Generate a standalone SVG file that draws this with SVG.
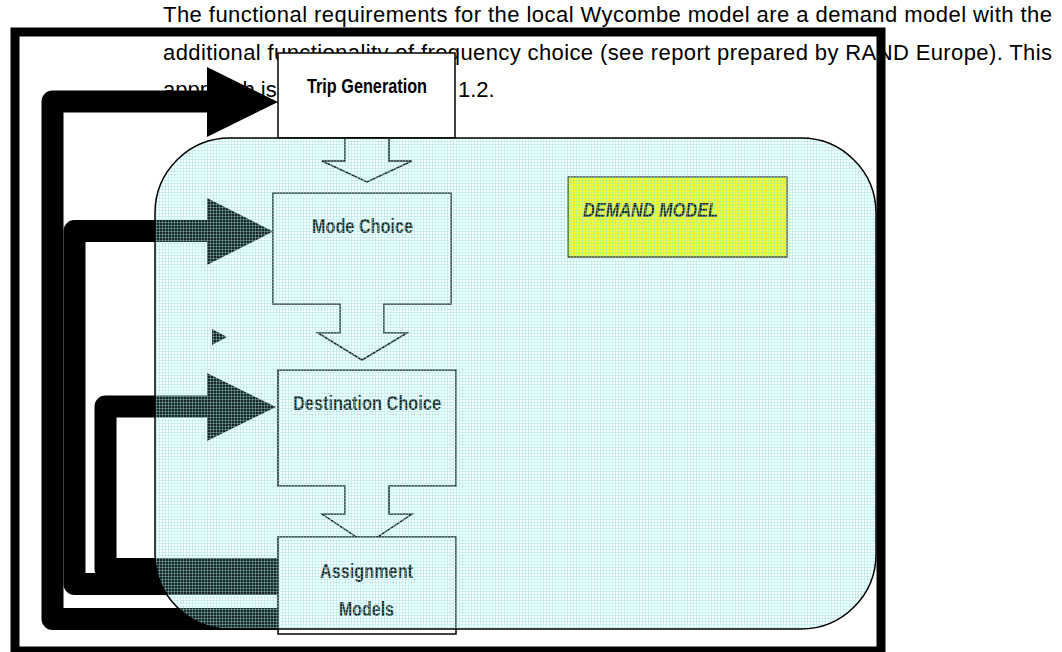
<svg xmlns="http://www.w3.org/2000/svg" width="1062" height="652" viewBox="0 0 1062 652">
  <defs>
    <pattern id="mesh" width="3" height="3" patternUnits="userSpaceOnUse">
      <rect width="3" height="3" fill="#c0f0f0" fill-opacity="0.15"/>
      <rect width="3" height="1" fill="#90e0e0" fill-opacity="0.4"/>
      <rect width="1" height="3" fill="#90e0e0" fill-opacity="0.4"/>
    </pattern>
  </defs>
  <style>
    .para { font-family: "Liberation Sans", Arial, sans-serif; font-size: 22px; fill: #000; }
    .lbl { font-family: "Liberation Sans", Arial, sans-serif; font-size: 20px; font-weight: bold; fill: #000; }
    .box { fill: #fff; stroke: #000; stroke-width: 1.5; }
    .loop { fill: none; stroke: #000; stroke-width: 22; stroke-linejoin: round; }
    .head { fill: #000; stroke: none; }
  </style>
  <rect width="1062" height="652" fill="#fff"/>

  <g id="paragraph">
    <text class="para" x="163" y="22" textLength="889">The functional requirements for the local Wycombe model are a demand model with the</text>
    <text class="para" x="163" y="60" textLength="889">additional functionality of frequency choice (see report prepared by RAND Europe). This</text>
    <text class="para" x="163" y="97">approach is</text>
    <text class="para" x="458" y="97">1.2.</text>
  </g>

  <g id="frame">
    <rect x="15" y="32" width="866" height="619" fill="none" stroke="#000" stroke-width="9"/>
  </g>

  <g id="connectors">
    <path class="loop" d="M 280 619 H 52.5 V 101.5 H 210"/>
    <polygon class="head" points="207,67 278,102 207,137"/>
    <path class="loop" d="M 280 584 H 74.5 V 231 H 210"/>
    <polygon class="head" points="207,198 273,231.5 207,265"/>
    <path class="loop" d="M 280 569 H 105.5 V 406.5 H 210"/>
    <polygon class="head" points="207,373 276,407 207,441"/>
    <polygon class="head" points="212,329 227,337 212,345"/>
  </g>

  <g id="trip-generation">
    <rect class="box" x="278" y="53" width="177" height="85"/>
    <polygon class="box" points="345,138 345,161 322,161 367,182 412,161 389,161 389,138"/>
    <text class="lbl" x="307" y="93" textLength="120" lengthAdjust="spacingAndGlyphs">Trip Generation</text>
  </g>

  <g id="mode-choice">
    <polygon class="box" points="273,193 451,193 451,304 384,304 384,333 407,333 362,360 318,333 340,333 340,304 273,304"/>
    <text class="lbl" x="312" y="233" textLength="101" lengthAdjust="spacingAndGlyphs">Mode Choice</text>
  </g>

  <g id="destination-choice">
    <polygon class="box" points="278,370 456,370 456,486 389,486 389,514 412,514 367,544 322,514 345,514 345,486 278,486"/>
    <text class="lbl" x="293" y="410" textLength="148" lengthAdjust="spacingAndGlyphs">Destination Choice</text>
  </g>

  <g id="assignment-models">
    <rect class="box" x="278" y="537" width="178" height="97"/>
    <text class="lbl" x="320" y="578" textLength="93" lengthAdjust="spacingAndGlyphs">Assignment</text>
    <text class="lbl" x="339" y="616" textLength="55" lengthAdjust="spacingAndGlyphs">Models</text>
  </g>

  <g id="demand-model-label">
    <rect x="568" y="177" width="219" height="80" fill="#ffff00" stroke="#000" stroke-width="1.2"/>
    <text class="lbl" x="583" y="217" font-style="italic" font-size="19.5" textLength="135" lengthAdjust="spacingAndGlyphs">DEMAND MODEL</text>
  </g>

  <g id="demand-model">
    <rect x="155" y="138" width="721" height="491" rx="75" ry="75" fill="url(#mesh)" stroke="#000" stroke-width="1.5"/>
  </g>
</svg>
